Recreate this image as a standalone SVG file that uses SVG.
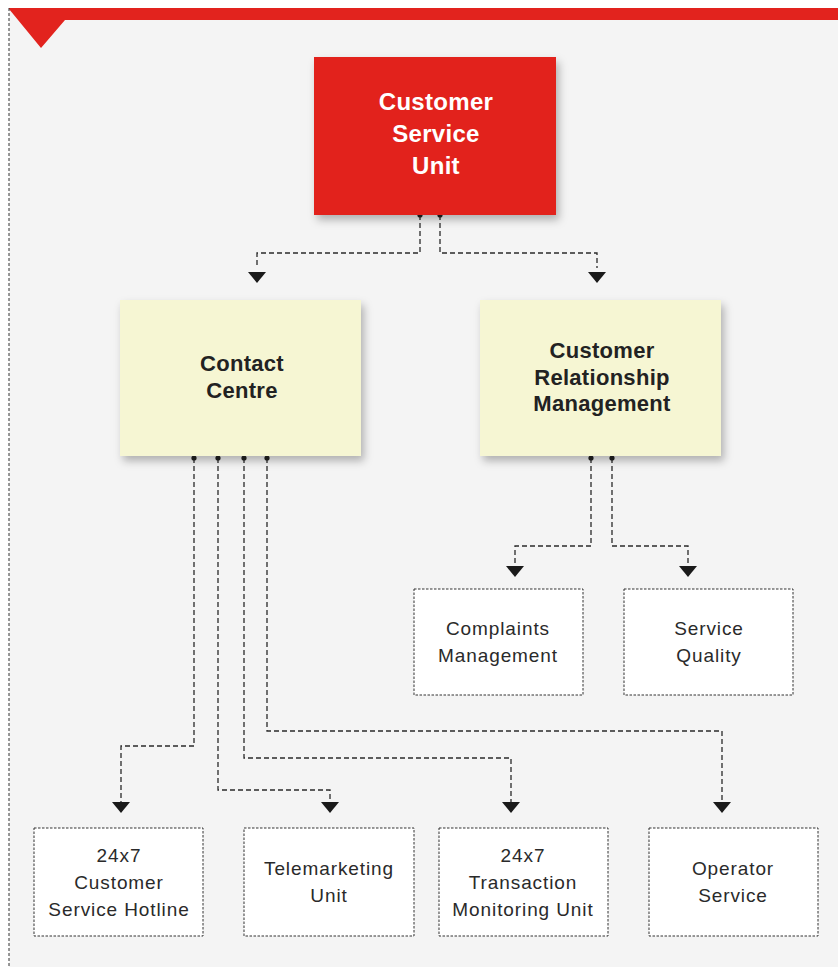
<svg xmlns="http://www.w3.org/2000/svg" width="838" height="967" viewBox="0 0 838 967">
<style>
.bt{font-family:"Liberation Sans",Arial,sans-serif;font-weight:bold;text-anchor:middle;letter-spacing:0.3px;}
.nt{font-family:"Liberation Sans",Arial,sans-serif;font-size:19px;fill:#2a2a2a;text-anchor:middle;letter-spacing:0.9px;}
.yel{fill:#f6f6d3;}
.sub{fill:#ffffff;stroke:#333;stroke-width:1;stroke-dasharray:2.5 1.5;}
.con{fill:none;stroke:#2a2a2a;stroke-width:1.3;stroke-dasharray:5 3;}
.dot{fill:#222;}
.arr{fill:#1a1a1a;}
</style>
<defs>
<filter id="sh" x="-10%" y="-10%" width="130%" height="140%">
<feDropShadow dx="3" dy="5" stdDeviation="4" flood-color="#000" flood-opacity="0.28"/>
</filter>
</defs>
<rect x="0" y="0" width="838" height="967" fill="#ffffff"/>
<rect x="9" y="8" width="829" height="959" fill="#f4f4f4"/>
<polygon points="9,8 838,8 838,20 65,20 41,48 9,9" fill="#e2231e"/>
<line x1="9" y1="8" x2="9" y2="967" stroke="#333" stroke-width="1" stroke-dasharray="3 2"/>

<g id="connectors">
<path class="con" d="M420,215 V253 H257 V268"/>
<path class="con" d="M440,215 V253 H597 V268"/>
<path class="con" d="M194,458 V746 H121 V802"/>
<path class="con" d="M218,458 V790 H330 V802"/>
<path class="con" d="M244,458 V758 H511 V802"/>
<path class="con" d="M267,458 V731 H722 V802"/>
<path class="con" d="M591,458 V546 H515 V565"/>
<path class="con" d="M612,458 V546 H688 V565"/>
<circle class="dot" cx="420" cy="215" r="2.6"/>
<circle class="dot" cx="440" cy="215" r="2.6"/>
<circle class="dot" cx="194" cy="458" r="2.6"/>
<circle class="dot" cx="218" cy="458" r="2.6"/>
<circle class="dot" cx="244" cy="458" r="2.6"/>
<circle class="dot" cx="267" cy="458" r="2.6"/>
<circle class="dot" cx="591" cy="458" r="2.6"/>
<circle class="dot" cx="612" cy="458" r="2.6"/>
<polygon class="arr" points="248,272 266,272 257,283"/>
<polygon class="arr" points="588,272 606,272 597,283"/>
<polygon class="arr" points="112,802 130,802 121,813"/>
<polygon class="arr" points="321,802 339,802 330,813"/>
<polygon class="arr" points="502,802 520,802 511,813"/>
<polygon class="arr" points="713,802 731,802 722,813"/>
<polygon class="arr" points="506,566 524,566 515,577"/>
<polygon class="arr" points="679,566 697,566 688,577"/>
</g>

<g id="customer-service-unit">
<rect x="314" y="57" width="242" height="158" fill="#e2231e" filter="url(#sh)"/>
<text class="bt" font-size="24" fill="#ffffff"><tspan x="436" y="110">Customer</tspan><tspan x="436" y="142">Service</tspan><tspan x="436" y="174">Unit</tspan></text>
</g>

<g id="contact-centre">
<rect class="yel" x="120" y="300" width="241" height="156" filter="url(#sh)"/>
<text class="bt" font-size="22" fill="#222"><tspan x="242" y="371">Contact</tspan><tspan x="242" y="398">Centre</tspan></text>
</g>

<g id="crm">
<rect class="yel" x="480" y="300" width="241" height="156" filter="url(#sh)"/>
<text class="bt" font-size="22" fill="#222"><tspan x="602" y="358">Customer</tspan><tspan x="602" y="385">Relationship</tspan><tspan x="602" y="411">Management</tspan></text>
</g>

<g id="complaints-management">
<rect class="sub" x="414" y="589" width="169" height="106"/>
<text class="nt"><tspan x="498" y="635">Complaints</tspan><tspan x="498" y="662">Management</tspan></text>
</g>

<g id="service-quality">
<rect class="sub" x="624" y="589" width="169" height="106"/>
<text class="nt"><tspan x="709" y="635">Service</tspan><tspan x="709" y="662">Quality</tspan></text>
</g>

<g id="hotline">
<rect class="sub" x="34" y="828" width="169" height="108"/>
<text class="nt"><tspan x="119" y="862">24x7</tspan><tspan x="119" y="889">Customer</tspan><tspan x="119" y="916">Service Hotline</tspan></text>
</g>

<g id="telemarketing">
<rect class="sub" x="244" y="828" width="170" height="108"/>
<text class="nt"><tspan x="329" y="875">Telemarketing</tspan><tspan x="329" y="902">Unit</tspan></text>
</g>

<g id="transaction-monitoring">
<rect class="sub" x="439" y="828" width="169" height="108"/>
<text class="nt"><tspan x="523" y="862">24x7</tspan><tspan x="523" y="889">Transaction</tspan><tspan x="523" y="916">Monitoring Unit</tspan></text>
</g>

<g id="operator-service">
<rect class="sub" x="649" y="828" width="169" height="108"/>
<text class="nt"><tspan x="733" y="875">Operator</tspan><tspan x="733" y="902">Service</tspan></text>
</g>
</svg>
